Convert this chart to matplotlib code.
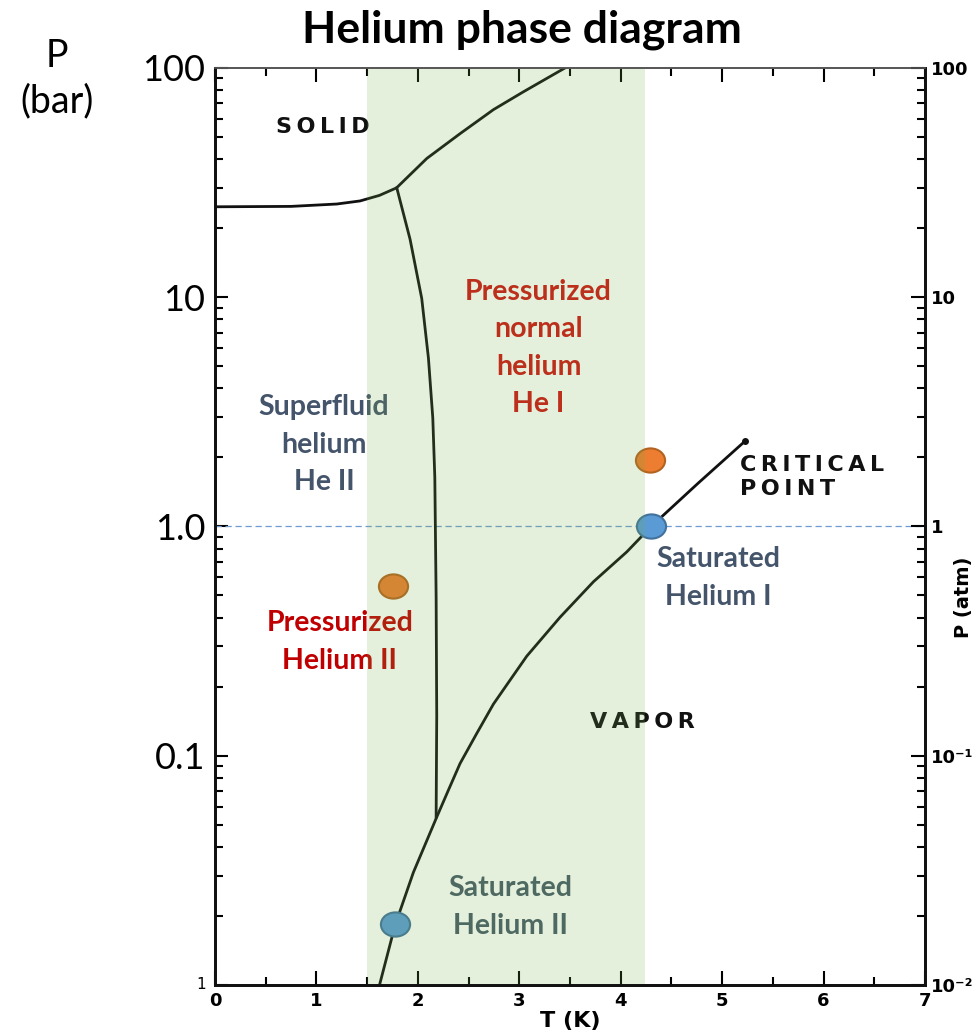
import matplotlib
matplotlib.use("Agg")
import matplotlib.pyplot as plt
from matplotlib.path import Path
from matplotlib.ticker import FixedLocator, NullFormatter
from matplotlib.transforms import Affine2D

plt.rcParams["font.family"] = ["Lato", "DejaVu Sans"]

# ---- phase boundaries (T in K, P in atm) ----
melt_T = [0.0, 0.75, 1.2, 1.43, 1.62, 1.79, 2.088, 2.416, 2.745, 3.04, 3.45]
melt_P = [24.8, 24.9, 25.5, 26.3, 27.8, 30.0, 40.3, 51.7, 65.8, 78.7, 100.0]

lambda_T = [1.792, 1.923, 2.038, 2.104, 2.147, 2.167, 2.18, 2.186, 2.18]
lambda_P = [30.0, 17.9, 9.88, 5.43, 2.98, 1.64, 0.493, 0.149, 0.054]

vapor_T = [1.627, 1.775, 1.956, 2.186, 2.30, 2.416, 2.58, 2.745, 2.91,
           3.074, 3.402, 3.731, 4.06, 4.30, 4.76, 5.227]
vapor_P = [0.0102, 0.0182, 0.031, 0.054, 0.0706, 0.0925, 0.125, 0.168,
           0.214, 0.272, 0.402, 0.574, 0.775, 1.0, 1.54, 2.36]

# operating points
orange_T = [4.29, 1.752]
orange_P = [1.94, 0.548]
blue_T = [4.30, 1.775]
blue_P = [1.0, 0.0184]

band = (1.5, 4.24)

bar_ticks = [0.1, 1.0, 10, 100]
bar_labels = ["0.1", "1.0", "10", "100"]
atm_ticks = [0.01, 0.1, 1, 10, 100]
atm_labels = ["10\u207b\u00b2", "10\u207b\u00b9", "1", "10", "100"]
x_ticks = [0, 1, 2, 3, 4, 5, 6, 7]

LINE = "#111111"
SCAN = ["DejaVu Sans"]
TS = "\u2009"  # thin space, to spread the scanned capitals


def spread(word):
    return TS.join(word)


def main():
    fig = plt.figure(figsize=(9.8, 10.33), dpi=100)
    ax = fig.add_axes([0.2194, 0.0465, 0.7245, 0.8877])

    ax.set_yscale("log")
    ax.set_xlim(0, 7)
    ax.set_ylim(0.01, 100)

    # green band laid over everything in the plot area
    ax.axvspan(*band, color="#70AD47", alpha=0.19, zorder=10, lw=0)

    lkw = dict(color=LINE, lw=2.0, zorder=3, solid_joinstyle="round")
    ax.plot(melt_T, melt_P, **lkw)
    ax.plot(lambda_T, lambda_P, **lkw)
    ax.plot(vapor_T, vapor_P, **lkw)
    ax.plot(vapor_T[-1], vapor_P[-1], "o", color=LINE, ms=4, zorder=3)

    ax.axhline(1.0, color="#6f9bd0", lw=0.9, ls=(0, (5, 3)), zorder=2)

    ell = Path.unit_circle().transformed(Affine2D().scale(1.0, 0.83))
    ax.plot(orange_T, orange_P, ls="none", marker=ell, ms=21, mfc="#ED7D31",
            mec="#B4621F", mew=1.5, zorder=5)
    ax.plot(blue_T, blue_P, ls="none", marker=ell, ms=21, mfc="#5B9BD5",
            mec="#41719C", mew=1.5, zorder=5)

    # scanned-figure labels
    skw = dict(fontsize=16, fontweight="bold", family=SCAN, color="#111111",
               va="center")
    ax.text(1.065, 55.4, spread("SOLID"), ha="center", **skw)
    ax.text(5.18, 1.64, spread("CRITICAL") + "\n" + spread("POINT"),
            ha="left", linespacing=1.25, **skw)
    ax.text(4.21, 0.14, spread("VAPOR"), ha="center", **skw)

    # coloured annotations
    kw = dict(fontsize=20.5, fontweight="bold", ha="center", va="center",
              linespacing=1.55, zorder=6)
    ax.text(3.19, 6.0, "Pressurized\nnormal\nhelium\nHe I", color="#CD1212", **kw)
    ax.text(1.075, 2.27, "Superfluid\nhelium\nHe II", color="#44546A", **kw)
    ax.text(1.23, 0.314, "Pressurized\nHelium II", color="#C00000", **kw)
    ax.text(4.96, 0.597, "Saturated\nHelium I", color="#44546A", **kw)
    ax.text(2.91, 0.0219, "Saturated\nHelium II", color="#465A68", **kw)

    # left axis (bar)
    ax.yaxis.set_major_locator(FixedLocator(bar_ticks + [0.01]))
    ax.set_yticklabels(bar_labels + [""])
    ax.tick_params(axis="y", which="major", direction="in", length=9,
                   width=1.5, labelsize=26, pad=7, right=False)
    ax.tick_params(axis="y", which="minor", direction="in", length=6,
                   width=1.5, right=False)
    ax.yaxis.set_minor_formatter(NullFormatter())
    ax.text(-0.14, 0.01, "1", fontsize=11, family=SCAN, ha="center",
            va="center", clip_on=False)

    # bottom/top axis (K)
    ax.set_xticks(x_ticks)
    ax.set_xticklabels([str(v) for v in x_ticks], family=SCAN,
                       fontweight="bold")
    ax.set_xticks([v + 0.5 for v in x_ticks[:-1]], minor=True)
    ax.tick_params(axis="x", which="major", direction="in", length=10,
                   width=1.5, labelsize=13, top=True, pad=5)
    ax.tick_params(axis="x", which="minor", direction="in", length=6,
                   width=1.5, top=True)
    ax.set_xlabel("T (K)", family=SCAN, fontsize=16, fontweight="bold",
                  labelpad=1)

    # right axis (atm)
    ax2 = ax.twinx()
    ax2.set_yscale("log")
    ax2.set_ylim(0.01, 100)
    ax2.yaxis.set_major_locator(FixedLocator(atm_ticks))
    ax2.set_yticklabels(atm_labels, family=SCAN, fontweight="bold")
    ax2.yaxis.set_minor_formatter(NullFormatter())
    ax2.tick_params(axis="y", which="major", direction="in", length=10,
                    width=1.5, labelsize=13, pad=4)
    ax2.tick_params(axis="y", which="minor", direction="in", length=6,
                    width=1.5)
    fig.text(0.983, 0.422, "P (atm)", family=SCAN, fontsize=14,
             fontweight="bold", rotation=90, ha="center", va="center")

    for a in (ax, ax2):
        for side in ("left", "right", "bottom"):
            a.spines[side].set_linewidth(2.0)
            a.spines[side].set_color("#111111")
        a.spines["top"].set_linewidth(1.2)
        a.spines["top"].set_color("#555555")

    fig.text(0.533, 0.971, "Helium phase diagram", fontsize=32,
             fontweight="bold", ha="center", va="center")
    fig.text(0.058, 0.924, "P\n(bar)", fontsize=27, ha="center",
             va="center", linespacing=1.3)

    fig.savefig("out.png", dpi=100)


if __name__ == "__main__":
    main()
